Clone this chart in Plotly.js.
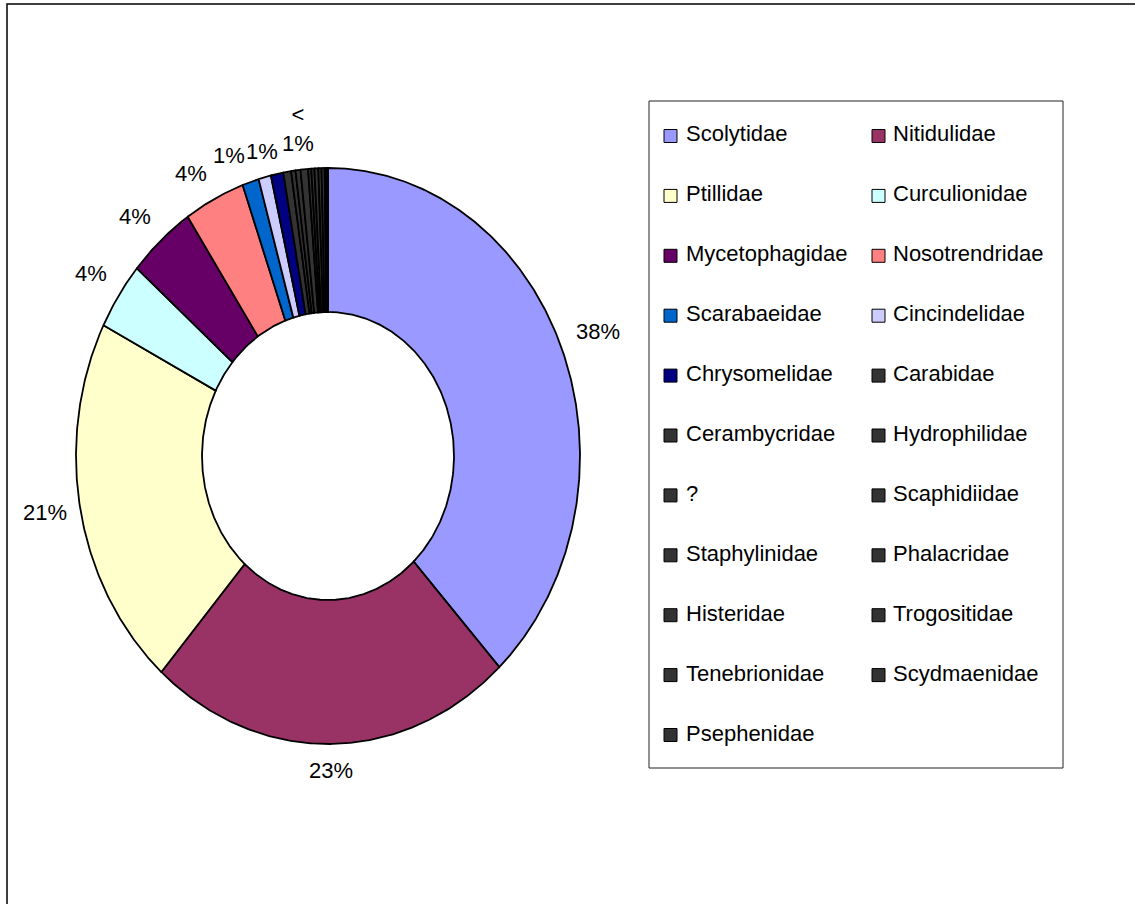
<!DOCTYPE html>
<html>
<head>
<meta charset="utf-8">
<script src="https://cdn.plot.ly/plotly-3.0.1.min.js"></script>
<style>html,body{margin:0;padding:0;background:#fff;}#chart{width:1135px;height:904px;}</style>
</head>
<body>
<div id="chart"></div>
<script>
// ---- data ----
const families = ["Scolytidae","Nitidulidae","Ptillidae","Curculionidae","Mycetophagidae","Nosotrendridae",
  "Scarabaeidae","Cincindelidae","Chrysomelidae","Carabidae","Cerambycridae","Hydrophilidae","?",
  "Scaphidiidae","Staphylinidae","Phalacridae","Histeridae","Trogositidae","Tenebrionidae","Scydmaenidae","Psephenidae"];
const shares = [38.1, 23.4, 21.0, 3.8, 4.3, 3.9, 1.06, 0.8, 0.8, 0.5, 0.28, 0.32, 0.48,
  0.2, 0.2, 0.25, 0.2, 0.2, 0.1, 0.06, 0.05];
const pctLabels = ["38%","23%","21%","4%","4%","4%","1%","1%","","","","","","","","","","","","",""];
const groupLabel = "&lt;<br>1%";
const colors = ["#9999FF","#993366","#FFFFCC","#CCFFFF","#660066","#FF8080","#0066CC","#CCCCFF","#000080",
  "#333333","#333333","#333333","#333333","#333333","#333333","#333333","#333333","#333333","#333333","#333333","#333333"];

// ---- geometry / style ----
const W = 1135, H = 904;
const cx = 328, cy = 456, rx = 252, ry = 288, hole = 0.5;
const FONT = "Liberation Sans, Arial, sans-serif";
const px = v => v / W, py = v => 1 - v / H;

const total = shares.reduce((a, b) => a + b, 0);
const traces = [];
const annotations = [];
const shapes = [];
let cum = 0;
const mids = [];
shares.forEach((v, i) => {
  const a0 = cum / total * 2 * Math.PI;
  cum += v;
  const a1 = cum / total * 2 * Math.PI;
  mids.push([a0, a1]);
  const n = Math.max(2, Math.ceil((a1 - a0) / (Math.PI / 360)));
  const xs = [], ys = [];
  for (let k = 0; k <= n; k++) { const a = a0 + (a1 - a0) * k / n; xs.push(Math.sin(a)); ys.push(Math.cos(a)); }
  for (let k = n; k >= 0; k--) { const a = a0 + (a1 - a0) * k / n; xs.push(hole * Math.sin(a)); ys.push(hole * Math.cos(a)); }
  xs.push(xs[0]); ys.push(ys[0]);
  traces.push({
    type: "scatter", mode: "lines", x: xs, y: ys, fill: "toself", fillcolor: colors[i],
    line: { color: "#000000", width: 1.8 }, name: families[i], hoverinfo: "text", text: families[i], showlegend: false
  });
});

function addLabel(mid, text) {
  const s = Math.sin(mid), c = Math.cos(mid);
  const vx = s * rx, vy = c * ry, L = Math.hypot(vx, vy);
  const ux = vx / L, uy = vy / L;
  annotations.push({
    x: s, y: c, xref: "x", yref: "y", text: text, showarrow: false,
    xanchor: s > 0.3 ? "left" : (s < -0.3 ? "right" : "center"),
    yanchor: c > 0.3 ? "bottom" : (c < -0.3 ? "top" : "middle"),
    xshift: 12 * ux, yshift: 12 * uy,
    font: { family: FONT, size: 22, color: "#000" }
  });
}
let gStart = null, gEnd = null;
pctLabels.forEach((t, i) => {
  if (t) addLabel((mids[i][0] + mids[i][1]) / 2, t);
  else { if (gStart === null) gStart = mids[i][0]; gEnd = mids[i][1]; }
});
if (gStart !== null) addLabel((gStart + gEnd) / 2, groupLabel);

// outer frame
shapes.push({ type: "rect", xref: "paper", yref: "paper", x0: px(7), x1: px(1140), y0: py(4), y1: py(910),
  line: { color: "#000", width: 1.5 }, fillcolor: "rgba(0,0,0,0)" });
// legend box
shapes.push({ type: "rect", xref: "paper", yref: "paper", x0: px(649), x1: px(1063), y0: py(101), y1: py(768),
  line: { color: "#222", width: 1 }, fillcolor: "rgba(0,0,0,0)" });

families.forEach((f, i) => {
  const col = i % 2, row = Math.floor(i / 2);
  const rowY = 133 + 59.9 * row;
  const sx = col === 0 ? 664 : 872;
  const tx = col === 0 ? 684 : 891;
  shapes.push({ type: "rect", xref: "paper", yref: "paper", x0: px(sx), x1: px(sx + 13), y0: py(rowY - 3.5), y1: py(rowY + 9.5),
    line: { color: "#000", width: 1 }, fillcolor: colors[i] });
  annotations.push({ x: px(tx), y: py(rowY + 1), xref: "paper", yref: "paper", text: f, showarrow: false,
    xanchor: "left", yanchor: "middle", font: { family: FONT, size: 22, color: "#000" } });
});

const layout = {
  width: W, height: H, autosize: false,
  margin: { l: 0, r: 0, t: 0, b: 0, pad: 0 },
  paper_bgcolor: "#ffffff", plot_bgcolor: "#ffffff",
  showlegend: false,
  xaxis: { range: [-cx / rx, (W - cx) / rx], visible: false, fixedrange: true, domain: [0, 1] },
  yaxis: { range: [-(H - cy) / ry, cy / ry], visible: false, fixedrange: true, domain: [0, 1] },
  shapes: shapes, annotations: annotations
};
Plotly.newPlot("chart", traces, layout, { displayModeBar: false, staticPlot: true });
</script>
</body>
</html>
